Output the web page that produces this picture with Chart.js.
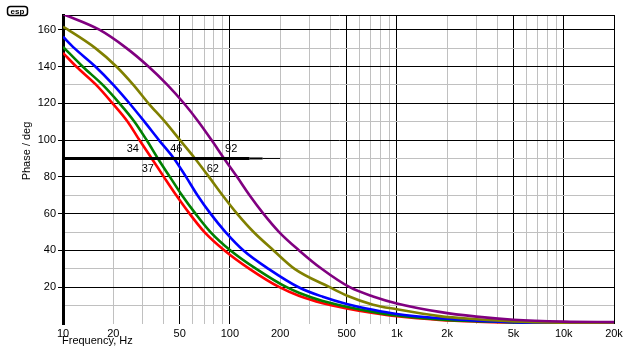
<!DOCTYPE html>
<html><head><meta charset="utf-8">
<script src="https://cdn.jsdelivr.net/npm/chart.js@4/dist/chart.umd.min.js"></script>
<style>html,body{margin:0;padding:0;background:#fff;}#wrap{width:634px;height:353px;position:relative;}</style>
</head><body><div id="wrap"><canvas id="c" width="634" height="353"></canvas></div>
<script>
// ---- data ----
const purpleFreq = [10, 16.5, 24, 32.5, 42.2, 53, 64.8, 77.6, 92.2, 110.3, 131.1, 158.6, 197.1, 259.7, 354.4, 521.9, 720, 1000, 1800, 3000, 5000, 10000, 20000];
const purplePhase = [168.5, 160, 150, 140, 130, 120, 110, 100, 90, 80, 70, 60, 50, 40, 30, 20, 15, 11.2, 6.6, 4, 2.3, 1.3, 1.0];

const oliveFreq = [10, 10.7, 15.62, 20.88, 26.4, 32.5, 40.8, 50.2, 61.76, 74.9, 90.3, 110.3, 138.6, 182.6, 244, 395.9, 500, 720, 1000, 1800, 3000, 5000, 10000, 20000];
const olivePhase = [161.6, 160, 150, 140, 130, 120, 110, 100, 90, 80, 70, 60, 50, 40, 30, 20, 15.5, 10.5, 8, 4.3, 2.6, 1.4, 0.7, 0.4];

const blueFreq = [10, 11.69, 15.62, 20.03, 25, 30.75, 37.55, 46.2, 54.6, 63.9, 76.5, 94.1, 120.6, 170.4, 257.9, 360, 500, 720, 1000, 1800, 3000, 5000, 10000, 20000];
const bluePhase = [156.2, 150, 140, 130, 120, 110, 100, 90, 80, 70, 60, 50, 40, 30, 20, 14.8, 10.9, 7.7, 5.4, 3.1, 1.8, 1.0, 0.5, 0.3];

const greenFreq = [10, 13.1, 17.3, 21.8, 26.8, 31.7, 37, 43.7, 51.6, 62.2, 76.5, 100.8, 143.8, 218.6, 261, 360, 500, 720, 1000, 1800, 3000, 5000, 10000, 20000];
const greenPhase = [150.7, 140, 130, 120, 110, 100, 90, 80, 70, 60, 50, 40, 30, 20, 16.9, 12.5, 9.4, 6.6, 4.6, 2.5, 1.5, 0.9, 0.5, 0.2];

const redFreq = [10, 12, 15.8, 19.8, 24.4, 28.7, 34, 40.2, 47.7, 57.3, 70.4, 92.8, 131, 198, 261, 360, 500, 720, 1000, 1800, 3000, 5000, 10000, 20000];
const redPhase = [147.4, 140, 130, 120, 110, 100, 90, 80, 70, 60, 50, 40, 30, 20, 15.2, 11.3, 8.5, 6, 4.2, 2.2, 1.3, 0.8, 0.4, 0.2];

// 90 degree reference line segments (freq ranges) with widths
const refThickFreq = [10, 131];
const refMidFreq = [131, 157];
const refThinFreq = [157, 200];
const refPhase = 90;

// annotation labels (frequency, phase position, text)
const annotFreq = [26.2, 47.7, 101.8, 32.2, 79];
const annotPhase = [95, 95, 95, 84.2, 84.2];
const annotText = ['34', '46', '92', '37', '62'];

// axis ticks
const xTickValues = [10, 20, 30, 40, 50, 60, 70, 80, 90,
  100, 200, 300, 400, 500, 600, 700, 800, 900,
  1000, 2000, 3000, 4000, 5000, 6000, 7000, 8000, 9000,
  10000, 20000];
const xTickLabels = {10:'10', 20:'20', 50:'50', 100:'100', 200:'200', 500:'500', 1000:'1k', 2000:'2k', 5000:'5k', 10000:'10k', 20000:'20k'};
const xMajor = [10, 50, 100, 500, 1000, 5000, 10000, 20000];
const yTickValues = [10, 20, 30, 40, 50, 60, 70, 80, 90, 100, 110, 120, 130, 140, 150, 160, 168];
const yLabelled = [20, 40, 60, 80, 100, 120, 140, 160];

const xTitle = 'Frequency, Hz';
const yTitle = 'Phase / deg';

// ---- build ----
const pts = (f, p) => f.map((v, i) => ({x: v, y: p[i]}));
const refPts = f => f.map(v => ({x: v, y: refPhase}));
const curve = (label, f, p, color) => ({
  label, data: pts(f, p), borderColor: color, backgroundColor: color,
  borderWidth: 2.6, pointRadius: 0, cubicInterpolationMode: 'monotone', fill: false
});
const refSeg = (f, w) => ({label: 'ref', data: refPts(f), borderColor: '#000', borderWidth: w, pointRadius: 0, fill: false, clip: false});

const textPlugin = {
  id: 'texts',
  afterDraw(chart) {
    const ctx = chart.ctx;
    const xs = chart.scales.x, ys = chart.scales.y;
    ctx.save();
    ctx.fillStyle = '#000';
    ctx.font = '11px "Liberation Sans", Arial, sans-serif';
    ctx.textAlign = 'center';
    ctx.textBaseline = 'middle';
    annotText.forEach((t, i) => {
      ctx.fillText(t, xs.getPixelForValue(annotFreq[i]), ys.getPixelForValue(annotPhase[i]));
    });
    ctx.textAlign = 'left';
    ctx.fillText(xTitle, chart.chartArea.left - 1, 341);
    ctx.save();
    ctx.translate(27, 151);
    ctx.rotate(-Math.PI / 2);
    ctx.textAlign = 'center';
    ctx.fillText(yTitle, 0, 0);
    ctx.restore();
    ctx.lineWidth = 1.5;
    ctx.strokeStyle = '#000';
    ctx.beginPath();
    if (ctx.roundRect) ctx.roundRect(7.5, 6.5, 20, 9, 3); else ctx.rect(7.5, 6.5, 20, 9);
    ctx.stroke();
    ctx.font = 'bold 8px "Liberation Sans", Arial, sans-serif';
    ctx.textAlign = 'center';
    ctx.fillText('esp', 17.5, 11.5);
    ctx.restore();
  }
};

new Chart(document.getElementById('c'), {
  type: 'line',
  data: {
    datasets: [
      refSeg(refThickFreq, 3), refSeg(refMidFreq, 2), refSeg(refThinFreq, 1),
      curve('purple', purpleFreq, purplePhase, '#800080'),
      curve('olive', oliveFreq, olivePhase, '#808000'),
      curve('blue', blueFreq, bluePhase, '#0000ff'),
      curve('green', greenFreq, greenPhase, '#008000'),
      curve('red', redFreq, redPhase, '#ff0000')
    ]
  },
  options: {
    responsive: false, animation: false, devicePixelRatio: 1,
    layout: {padding: {left: 0, top: 15, right: 20, bottom: 0}},
    plugins: {legend: {display: false}, tooltip: {enabled: false}},
    scales: {
      x: {
        type: 'logarithmic', min: 10, max: 20000,
        afterBuildTicks: a => { a.ticks = xTickValues.map(v => ({value: v})); },
        afterFit: s => { s.height = 29; },
        ticks: {
          autoSkip: false, maxRotation: 0, padding: 3, color: '#000',
          font: {family: '"Liberation Sans", Arial, sans-serif', size: 11},
          callback: v => xTickLabels[v] || ''
        },
        grid: {
          drawTicks: false,
          color: c => (c.tick && xMajor.includes(c.tick.value)) ? '#000' : '#c0c0c0',
          lineWidth: 1
        },
        border: {display: false}
      },
      y: {
        type: 'linear', min: 0, max: 168,
        afterBuildTicks: a => { a.ticks = yTickValues.map(v => ({value: v})); },
        afterFit: s => { s.width = 63; },
        ticks: {
          autoSkip: false, padding: 2, color: '#000',
          font: {family: '"Liberation Sans", Arial, sans-serif', size: 11},
          callback: v => yLabelled.includes(v) ? String(v) : ''
        },
        grid: {
          drawTicks: true, tickLength: 5,
          color: c => (c.tick && (c.tick.value % 20 === 0 || c.tick.value === 168)) ? '#000' : '#c0c0c0',
          tickColor: c => (c.tick && yLabelled.includes(c.tick.value)) ? '#000' : 'rgba(0,0,0,0)',
          lineWidth: 1
        },
        border: {display: true, color: '#000', width: 3}
      }
    }
  },
  plugins: [textPlugin]
});
</script></body></html>
